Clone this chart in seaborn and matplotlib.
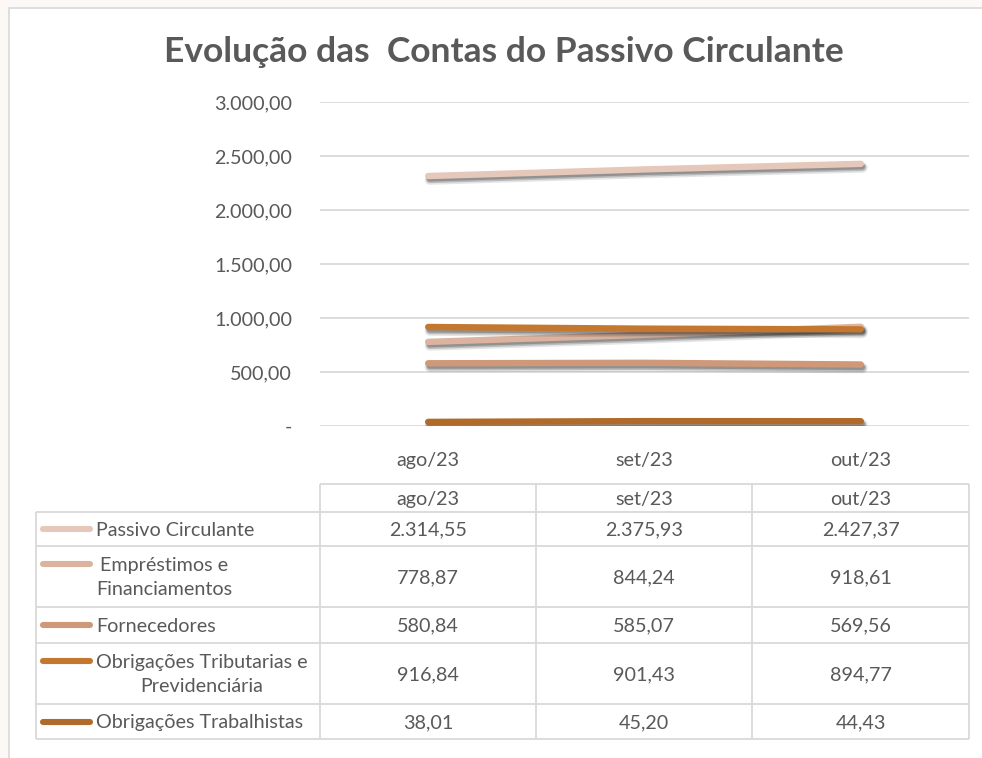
import numpy as np
import pandas as pd
import matplotlib
matplotlib.use("Agg")
import matplotlib.pyplot as plt
import seaborn as sns
from matplotlib import patheffects as pe
from matplotlib.ticker import FuncFormatter, FixedLocator
from matplotlib.lines import Line2D

# ---------------- data ----------------
months = ["ago/23", "set/23", "out/23"]
series = ["Passivo Circulante", "Empréstimos e\nFinanciamentos", "Fornecedores",
          "Obrigações Tributarias e\nPrevidenciária", "Obrigações Trabalhistas"]
passivo = [2314.55, 2375.93, 2427.37]
emprestimos = [778.87, 844.24, 918.61]
fornecedores = [580.84, 585.07, 569.56]
obrig_trib = [916.84, 901.43, 894.77]
obrig_trab = [38.01, 45.20, 44.43]
colors = ["#E6C8BA", "#DBB39F", "#CF9878", "#C4782F", "#B06B2A"]
y_ticks = [0, 500, 1000, 1500, 2000, 2500, 3000]
title = "Evolução das  Contas do Passivo Circulante"

values = [passivo, emprestimos, fornecedores, obrig_trib, obrig_trab]
df = pd.DataFrame({
    "mes": months * len(series),
    "serie": [s for s in series for _ in months],
    "valor": [v for vals in values for v in vals],
})


def br(v):
    if v == 0:
        return "-"
    s = f"{v:,.2f}"
    return s.replace(",", "X").replace(".", ",").replace("X", ".")


sns.set_theme(style="white")
FONT = ["Lato", "DejaVu Sans"]
plt.rcParams["font.family"] = FONT
TXT = "#595959"
GRID = "#D9D9D9"
FS = 14.2

W, H = 982, 758
fig = plt.figure(figsize=(W / 100, H / 100), dpi=100)
fig.patch.set_facecolor("white")

# overlay in pixel coordinates
ov = fig.add_axes([0, 0, 1, 1], zorder=0)
ov.set_xlim(0, W)
ov.set_ylim(H, 0)
ov.axis("off")
ov.patch.set_alpha(0)

# faint page background outside the chart frame
ov.add_patch(plt.Rectangle((0, 0), W, 7.5, fc="#FCF8F5", ec="none"))
ov.add_patch(plt.Rectangle((0, 0), 9.5, H, fc="#FCF8F5", ec="none"))
# chart border (right/bottom edges lie outside the image)
ov.add_patch(plt.Rectangle((9.5, 7.5), 1000, 800, fc="white", ec=GRID, lw=1.2))

# ---------------- plot area ----------------
L, R, T, B = 320, 969, 102, 426
ax = fig.add_axes([L / W, 1 - B / H, (R - L) / W, (B - T) / H], zorder=2)
ax.patch.set_alpha(0)
sns.lineplot(data=df, x="mes", y="valor", hue="serie", hue_order=series,
             palette=colors, sort=False, ax=ax, legend=False, lw=4.6)
for ln in ax.lines:
    ln.set_solid_capstyle("round")
    ln.set_path_effects([
        pe.SimpleLineShadow(offset=(1.2, -2.6), shadow_color="black", alpha=0.10, linewidth=7.5),
        pe.SimpleLineShadow(offset=(1.2, -2.4), shadow_color="black", alpha=0.18, linewidth=5.5),
        pe.SimpleLineShadow(offset=(1.0, -2.0), shadow_color="black", alpha=0.22, linewidth=4.0),
        pe.Normal()])
ax.set_xlim(-0.5, 2.5)
ax.set_ylim(0, 3000)
ax.yaxis.set_major_locator(FixedLocator(y_ticks))
ax.yaxis.set_major_formatter(FuncFormatter(lambda v, p: br(v)))
ax.grid(axis="y", color=GRID, lw=1.3)
ax.set_axisbelow(True)
for sp in ax.spines.values():
    sp.set_visible(False)
ax.tick_params(axis="both", length=0, labelsize=FS, colors=TXT)
ax.tick_params(axis="y", pad=20)
ax.tick_params(axis="x", pad=19)
ax.set_xlabel("")
ax.set_ylabel("")

# title
ov.text(504, 52, title, ha="center", va="center", fontsize=25.5,
        fontweight="bold", color=TXT)

# ---------------- data table ----------------
cols = [320, 536, 752, 969]
left = 36
head_top = 484
rows = [512, 546, 607, 643, 704, 739]
lkw = dict(color=GRID, lw=1.3, solid_capstyle="butt")
ov.plot([cols[0], cols[-1]], [head_top, head_top], **lkw)
for x in cols:
    ov.plot([x, x], [head_top, rows[-1]], **lkw)
ov.plot([left, left], [rows[0], rows[-1]], **lkw)
for y in rows:
    ov.plot([left, cols[-1]], [y, y], **lkw)
for i, m in enumerate(months):
    ov.text((cols[i] + cols[i + 1]) / 2, (head_top + rows[0]) / 2 + 1, m,
            ha="center", va="center", fontsize=FS, color=TXT)

for r, (name, vals, c) in enumerate(zip(series, values, colors)):
    y0, y1 = rows[r], rows[r + 1]
    yc = (y0 + y1) / 2
    nlines = name.count("\n") + 1
    key_y = yc if nlines == 1 else yc - 13
    ov.add_line(Line2D([43, 90], [key_y, key_y], color=c, lw=4.4,
                       solid_capstyle="round"))
    ov.text(96, yc + 1, name, ha="left", va="center", fontsize=FS,
            color=TXT, multialignment="center", linespacing=1.5)
    for i, v in enumerate(vals):
        ov.text((cols[i] + cols[i + 1]) / 2, yc + 1, br(v), ha="center",
                va="center", fontsize=FS, color=TXT)

fig.savefig("out.png", dpi=100, facecolor="white")
